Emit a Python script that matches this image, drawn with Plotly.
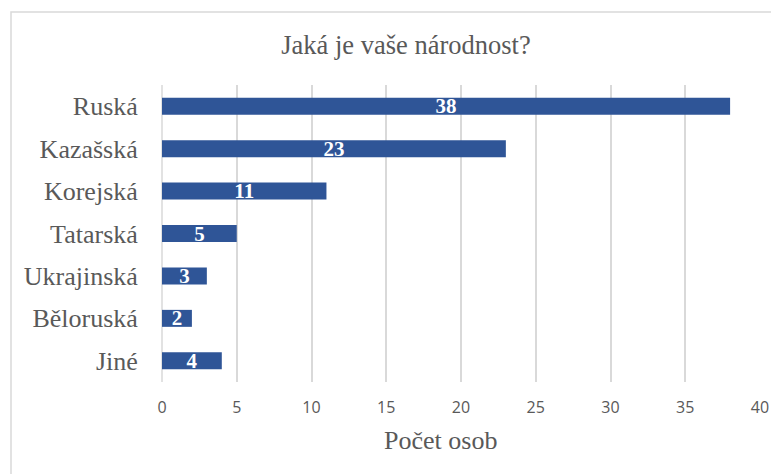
import plotly.graph_objects as go

categories = ["Ruská", "Kazašská", "Korejská", "Tatarská", "Ukrajinská", "Běloruská", "Jiné"]
values = [38, 23, 11, 5, 3, 2, 4]
x_ticks = [0, 5, 10, 15, 20, 25, 30, 35, 40]

title_text = "Jaká je vaše národnost?"
x_title = "Počet osob"

# page body has an 8px margin; figure sized/offset to compensate
OFF = 8
W, H = 779 - OFF, 474 - OFF
L, R, T, B = 162 - OFF, 19, 85 - OFF, 92
pw = W - L - R
ph = H - T - B

fig = go.Figure()
fig.add_trace(go.Bar(
    y=categories, x=values, orientation="h",
    marker=dict(color="#2F5597", line=dict(width=0)),
    text=[str(v) for v in values], textposition="inside", insidetextanchor="middle",
    textangle=0, constraintext="none",
    textfont=dict(family="Liberation Serif", size=21, color="white", weight="bold"),
    cliponaxis=False,
))

fig.update_layout(
    width=W, height=H,
    margin=dict(l=L, r=R, t=T, b=B, autoexpand=False),
    paper_bgcolor="white", plot_bgcolor="white",
    bargap=0.6,
    showlegend=False,
    title=dict(text=title_text, x=(406 - OFF) / W, xanchor="center", xref="container",
               y=1 - (45 - OFF) / H, yanchor="middle", yref="container",
               font=dict(family="Liberation Serif", size=26.5, color="#595959")),
    xaxis=dict(range=[0, 40], tickvals=x_ticks, showgrid=True, gridcolor="#D9D9D9", gridwidth=1.5,
               zeroline=False, showline=False, automargin=False,
               tickfont=dict(family="Open Sans", size=16, color="#595959"),
               ticks="outside", ticklen=11, tickcolor="rgba(0,0,0,0)"),
    yaxis=dict(categoryorder="array", categoryarray=categories, autorange="reversed",
               showgrid=False, zeroline=False, showline=False, automargin=False,
               tickfont=dict(family="Liberation Serif", size=26, color="#595959"),
               ticks="outside", ticklen=18, tickcolor="rgba(0,0,0,0)"),
    annotations=[
        dict(text=x_title, xref="paper", yref="paper",
             x=(440 - 162) / pw, y=-(440 - 382) / ph, xanchor="center", yanchor="middle",
             showarrow=False, font=dict(family="Liberation Serif", size=26, color="#595959")),
    ],
    shapes=[
        dict(type="line", xref="paper", yref="paper", x0=0, x1=0, y0=0, y1=1,
             line=dict(color="#D9D9D9", width=1.5), layer="below"),
        dict(type="rect", xref="paper", yref="paper",
             x0=(11 - 162) / pw, x1=(W + 20 - L) / pw,
             y0=-(H + 20 - T - ph) / ph, y1=(382 - 12) / ph,
             line=dict(color="#D9D9D9", width=1.5), fillcolor="rgba(0,0,0,0)", layer="below"),
    ],
)

fig.write_html("out.html")
